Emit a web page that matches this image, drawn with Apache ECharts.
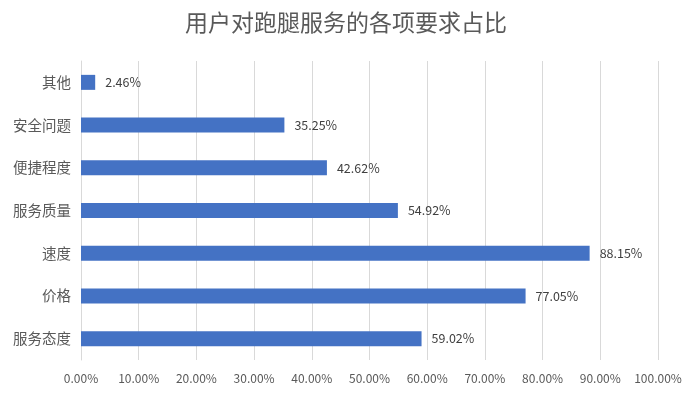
<!DOCTYPE html>
<html><head><meta charset="utf-8">
<script src="https://cdn.jsdelivr.net/npm/echarts@6/dist/echarts.min.js"></script>
<style>html,body{margin:0;padding:0;background:#fff}#c{width:692px;height:401px}</style>
</head><body><div id="c"></div>
<script>
var titleText = '用户对跑腿服务的各项要求占比';
var categories = ['服务态度', '价格', '速度', '服务质量', '便捷程度', '安全问题', '其他'];
var values = [59.02, 77.05, 88.15, 54.92, 42.62, 35.25, 2.46];
var xTicks = [0, 10, 20, 30, 40, 50, 60, 70, 80, 90, 100];

var font = '"Noto Sans CJK SC", "Noto Sans", sans-serif';
var chart = echarts.init(document.getElementById('c'), null, {renderer: 'canvas'});
chart.setOption({
  animation: false,
  title: {
    text: titleText, left: 'center', top: 6,
    textStyle: {fontFamily: font, fontSize: 23, fontWeight: 'normal', color: '#595959'}
  },
  grid: {left: 81, right: 34, top: 61, bottom: 41},
  xAxis: {
    type: 'value', min: xTicks[0], max: xTicks[xTicks.length - 1], interval: 10,
    axisLine: {show: false}, axisTick: {show: false},
    splitLine: {show: true, lineStyle: {color: '#d9d9d9', width: 1}},
    axisLabel: {
      fontFamily: font, fontSize: 12, color: '#595959', margin: 12,
      formatter: function (v) { return v.toFixed(2) + '%'; }
    }
  },
  yAxis: {
    type: 'category', data: categories,
    axisLine: {show: true, lineStyle: {color: '#d9d9d9'}},
    axisTick: {show: false},
    axisLabel: {fontFamily: font, fontSize: 14.5, color: '#595959', margin: 10}
  },
  series: [{
    type: 'bar', data: values, barWidth: 15,
    itemStyle: {color: '#4472c4'},
    label: {
      show: true, position: 'right', distance: 10,
      fontFamily: font, fontSize: 12.5, color: '#404040',
      formatter: function (p) { return p.value.toFixed(2) + '%'; }
    }
  }]
});
</script></body></html>
